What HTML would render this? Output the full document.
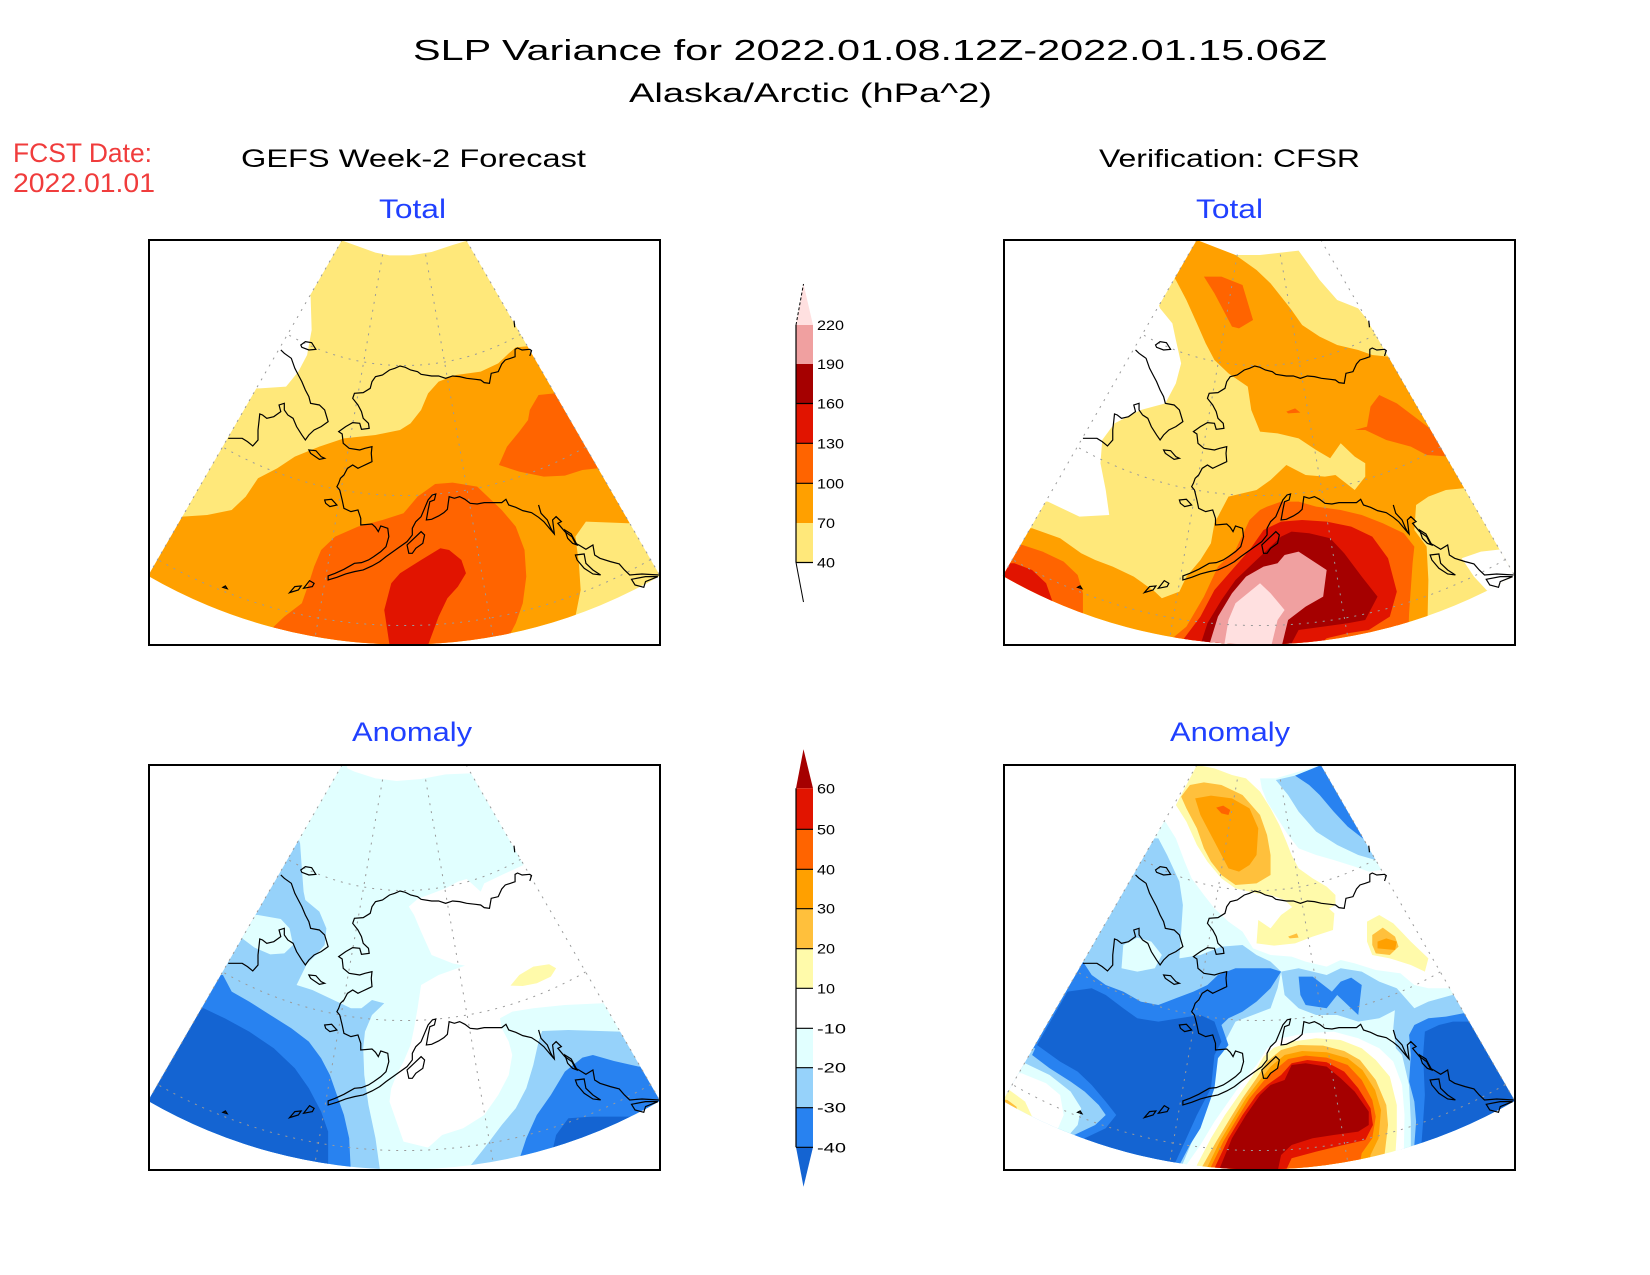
<!DOCTYPE html>
<html>
<head>
<meta charset="utf-8">
<style>
html,body{margin:0;padding:0;background:#fff;}
svg{display:block;}
text{font-family:"Liberation Sans",sans-serif;}
</style>
</head>
<body>
<svg width="1650" height="1275" viewBox="0 0 1650 1275" xmlns="http://www.w3.org/2000/svg">
<defs>
  <clipPath id="fanL"><path d="M604.7,30 L958.3,30 L1511.5,1037.7 A1460,1536 0 0 1 51.5,1037.7 Z"/></clipPath>
  <clipPath id="fanR"><path d="M589.7,30 L943.3,30 L1496.5,1037.7 A1460,1536 0 0 1 36.5,1037.7 Z"/></clipPath>
  <g id="coast" fill="none" stroke="#000" stroke-width="1.2" vector-effect="non-scaling-stroke">
    <path vector-effect="non-scaling-stroke" d="M1140,378 L1145,362 L1140,358 L1118,360 L1105,354 L1098,358 L1098,380 L1085,385 L1070,390 L1060,402 L1050,425 L1030,430 L1025,460 L1010,458 L1000,450 L985,448 L960,445 L940,440 L920,438 L900,445 L880,438 L860,438 L830,433 L820,425 L800,420 L785,412 L770,408 L755,415 L740,420 L720,435 L700,440 L690,455 L685,475 L665,488 L640,490 L635,505 L650,525 L660,545 L665,565 L680,580 L682,595 L660,598 L655,580 L635,578 L615,590 L595,605 L605,612 L608,640 L625,655 L655,660 L670,655 L690,650 L688,670 L690,695 L680,700 L660,710 L650,715 L635,705 L620,715 L610,735 L600,745 L595,760 L590,770 L598,780 L605,810 L610,835 L630,845 L650,840 L658,865 L658,885 L690,882 L700,892 L708,905 L715,888 L735,895 L738,920 L730,950 L715,965 L695,980 L680,990 L660,998 L640,1000 L610,1018 L585,1030 L565,1038 L565,1050 L590,1042 L615,1032 L640,1025 L665,1020 L690,1008 L712,995 L730,980 L750,965 L770,950 L790,935 L805,915 L805,895 L815,875 L830,860 L840,835 L850,810 L862,795 L872,792 L868,810 L855,815 L850,840 L845,870 L860,868 L880,858 L895,848 L905,838 L910,800 L925,805 L940,800 L955,808 L970,820 L990,822 L1010,818 L1035,818 L1060,818 L1072,808 L1080,825 L1100,832 L1120,842 L1145,848 L1165,862 L1180,875 L1200,900 L1210,912 L1205,870 L1215,860 L1230,875 L1220,880 L1240,905 L1260,920 L1270,940 L1280,945 L1300,958 L1320,945 L1325,975 L1340,985 L1370,995 L1395,1002 L1410,1020 L1425,1035 L1460,1032 L1508,1035"/>
    <path vector-effect="non-scaling-stroke" d="M1095,272 L1097,292 M1165,825 L1172,850 L1190,870 L1200,895 L1208,910 M1240,900 L1258,912 L1275,945 L1262,940 L1248,925 Z M1270,975 L1295,972 L1300,1000 L1320,1020 L1342,1035 L1320,1032 L1295,1015 L1275,990 Z M1430,1048 L1470,1040 L1505,1040 L1470,1055 L1465,1072 L1440,1065 Z"/>
    <path vector-effect="non-scaling-stroke" d="M795,970 L790,945 L810,925 L830,905 L840,915 L835,940 L815,955 L805,970 Z M487,345 L500,335 L518,338 L530,358 L510,360 L490,352 Z M510,660 L530,662 L545,680 L555,685 L540,688 L515,670 Z M555,810 L575,808 L590,825 L570,830 L558,820 Z M455,1088 L470,1070 L488,1068 L480,1080 Z M495,1075 L512,1052 L525,1060 L520,1070 Z M265,1072 L272,1068 L277,1076 Z"/>
    <path vector-effect="non-scaling-stroke" d="M430,360 L440,370 L460,385 L470,415 L480,435 L490,455 L500,480 L510,500 L515,520 L540,525 L555,540 L565,575 L545,590 L525,600 L510,615 L500,630 L490,615 L475,590 L465,565 L450,555 L440,540 L440,520 L425,525 L430,545 L410,560 L390,565 L378,555 L370,552 L368,572 L365,600 L365,630 L350,648 L335,635 L320,625 L280,625"/>
  </g>
  <g id="grid" fill="none" stroke="#9a9a9a" stroke-width="1" stroke-dasharray="2 6">
    <path d="M-21.5,122.1 L-88.9,504.2 M21.5,122.1 L88.9,504.2"/>
    <path d="M116.5,201.8 A233,233 0 0 1 -116.5,201.8"/>
    <path d="M181.5,314.4 A363,363 0 0 1 -181.5,314.4"/>
    <path d="M246.5,427 A493,493 0 0 1 -246.5,427"/>
    <path d="M-62,107.4 L-256,443.4 M62,107.4 L256,443.4"/>
  </g>
</defs>

<rect x="0" y="0" width="1650" height="1275" fill="#fff"/>

<!-- Titles -->
<text x="413" y="60" font-size="29" fill="#000" textLength="914" lengthAdjust="spacingAndGlyphs">SLP Variance for 2022.01.08.12Z-2022.01.15.06Z</text>
<text x="629" y="102" font-size="27" fill="#000" textLength="363" lengthAdjust="spacingAndGlyphs">Alaska/Arctic (hPa^2)</text>
<text x="13" y="162" font-size="27" fill="#f03c3c" textLength="139" lengthAdjust="spacingAndGlyphs">FCST Date:</text>
<text x="13" y="192" font-size="27" fill="#f03c3c" textLength="142" lengthAdjust="spacingAndGlyphs">2022.01.01</text>
<text x="241" y="167" font-size="25" fill="#000" textLength="345" lengthAdjust="spacingAndGlyphs">GEFS Week-2 Forecast</text>
<text x="1099" y="167" font-size="25" fill="#000" textLength="261" lengthAdjust="spacingAndGlyphs">Verification: CFSR</text>
<text x="379" y="218" font-size="27" fill="#2040ff" textLength="67" lengthAdjust="spacingAndGlyphs">Total</text>
<text x="1196" y="218" font-size="27" fill="#2040ff" textLength="67" lengthAdjust="spacingAndGlyphs">Total</text>
<text x="352" y="741" font-size="27" fill="#2040ff" textLength="120" lengthAdjust="spacingAndGlyphs">Anomaly</text>
<text x="1170" y="741" font-size="27" fill="#2040ff" textLength="120" lengthAdjust="spacingAndGlyphs">Anomaly</text>

<!-- Panel 1: GEFS Total -->
<g transform="translate(130,230) scale(0.3507,0.3333)">
 <g clip-path="url(#fanL)">
  <polygon fill="#ffe87a" points="0,0 600,0 605,32 640,45 700,68 740,76 800,76 860,66 920,45 962,32 1600,0 1600,1300 0,1300 0,475 370,475 445,470 480,425 505,375 518,300 515,200 400,0"/>
  <polygon fill="#ffa000" points="0,860 150,860 220,855 290,840 330,800 365,745 420,715 470,680 540,650 610,625 700,615 770,600 800,580 830,540 850,490 880,455 930,435 1000,425 1050,400 1080,370 1100,352 1140,348 1600,348 1600,880 1420,880 1300,875 1270,920 1280,1000 1285,1080 1270,1160 1265,1300 0,1300"/>
  <polygon fill="#ff6400" points="1140,540 1165,495 1210,490 1600,490 1600,715 1335,715 1290,720 1240,737 1180,740 1110,725 1052,705 1075,650 1110,605 1135,570"/>
  <polygon fill="#ff6400" points="405,1300 405,1195 440,1160 490,1120 510,1060 525,1010 545,960 585,920 650,890 720,870 780,850 820,800 870,762 920,758 990,770 1020,800 1060,840 1100,890 1125,960 1130,1040 1120,1120 1100,1180 1080,1220 1075,1300"/>
  <polygon fill="#e11400" points="740,1300 740,1245 725,1140 745,1060 770,1030 830,990 885,955 910,960 945,990 958,1030 935,1070 905,1105 880,1160 850,1245 845,1300"/>
 </g>
</g>
<use href="#grid" x="404.1" y="132.5"/>
<g transform="translate(130,230) scale(0.3507,0.3333)"><use href="#coast"/></g>

<!-- Panel 2: CFSR Total -->
<g transform="translate(990,230) scale(0.3507,0.3333)">
 <g clip-path="url(#fanR)">
  <polygon fill="#ffe87a" points="0,0 595,0 590,32 700,75 770,75 880,62 920,120 940,150 990,210 1050,235 1080,275 1600,275 1600,1300 0,1300 0,815 165,815 255,860 340,855 330,780 315,700 320,630 355,580 430,540 500,520 530,460 545,400 530,330 520,280 485,235 400,0"/>
  <polygon fill="#ffa000" points="590,30 700,75 760,120 800,160 830,200 860,240 890,285 940,320 990,345 1050,360 1090,375 1135,380 1600,380 1600,775 1350,775 1300,780 1250,800 1215,825 1210,900 1245,950 1250,1050 1245,1300 0,1300 0,895 120,895 200,925 260,970 300,990 350,1010 410,1040 470,1085 490,1105 540,1085 560,1040 600,990 630,940 640,880 680,800 760,780 800,750 845,705 900,735 955,740 985,735 1040,780 1070,740 1070,700 1040,680 1000,640 970,685 930,660 880,625 820,610 770,605 745,540 735,470 680,430 640,390 615,340 590,280 560,210 530,150 450,30"/>
  <polygon fill="#fff" points="1345,985 1400,965 1460,958 1520,1000 1520,1060 1420,1085 1380,1040"/>
  <polygon fill="#ff6400" points="610,140 660,140 720,165 750,270 710,295 690,290 660,230 640,190"/>
  <polygon fill="#ff6400" points="845,545 870,535 885,548 850,550"/>
  <polygon fill="#ff6400" points="1040,600 1075,590 1085,530 1110,495 1160,520 1210,560 1260,600 1600,620 1600,700 1245,675 1200,650 1130,630 1070,600"/>
  <polygon fill="#ff6400" points="0,945 93,945 150,965 210,995 250,1035 265,1090 265,1300 0,1300"/>
  <polygon fill="#ff6400" points="500,1300 520,1225 560,1190 610,1100 650,1010 700,960 740,870 770,840 790,830 830,815 880,815 930,830 1000,840 1060,855 1120,880 1180,910 1210,950 1205,1000 1195,1150 1190,1300"/>
  <polygon fill="#e11400" points="0,1000 70,1000 120,1020 160,1060 180,1120 180,1300 0,1300"/>
  <polygon fill="#e11400" points="550,1300 550,1230 600,1160 640,1080 690,1020 740,960 780,900 830,875 890,870 960,875 1030,890 1090,920 1135,985 1160,1085 1140,1160 1110,1180 1080,1200 1020,1210 960,1225 880,1300"/>
  <polygon fill="#a50000" points="600,1300 600,1245 620,1180 660,1110 700,1050 750,1000 790,960 830,920 860,905 910,910 970,925 1010,970 1060,1040 1105,1100 1070,1170 1020,1180 950,1190 880,1200 830,1300"/>
  <polygon fill="#f0a0a0" points="620,1300 625,1245 650,1160 690,1090 730,1040 780,1010 820,1000 840,975 880,965 960,1020 950,1100 900,1130 850,1170 820,1300"/>
  <polygon fill="#ffe0e0" points="665,1300 668,1245 680,1170 700,1120 770,1060 800,1090 840,1140 820,1170 790,1300"/>
 </g>
</g>
<use href="#grid" x="1258.8" y="132.5"/>
<g transform="translate(990,230) scale(0.3507,0.3333) translate(-15,0)"><use href="#coast"/></g>

<!-- Panel 3: GEFS Anomaly -->
<g transform="translate(130,755) scale(0.3507,0.3333)">
 <g clip-path="url(#fanL)">
  <polygon fill="#e1ffff" points="0,0 610,0 620,40 640,50 700,70 760,78 830,72 900,58 970,55 1000,0 1600,0 1600,1300 0,1300"/>
  <polygon fill="#fff" points="1122,330 1060,360 1010,385 1000,410 960,372 935,380 900,400 850,420 820,432 795,455 810,480 830,530 860,600 920,625 955,632 880,660 830,690 820,760 810,820 800,870 780,920 760,960 745,1000 740,1040 760,1100 780,1160 850,1178 890,1140 950,1120 1010,1080 1050,1020 1080,960 1090,900 1080,860 1060,820 1055,790 1090,770 1150,760 1240,750 1347,745 1600,745 1600,330"/>
  <polygon fill="#fffaaa" points="1085,692 1110,660 1150,635 1195,628 1215,640 1200,665 1160,685 1120,693"/>
  <polygon fill="#96d2fa" points="480,250 485,265 490,340 495,410 500,435 540,470 560,520 555,570 530,600 505,625 475,690 520,705 560,725 600,745 630,760 660,760 690,735 725,745 690,780 670,830 665,880 668,960 680,1050 700,1150 720,1300 0,1300 0,250"/>
  <polygon fill="#e1ffff" points="365,480 430,492 455,520 465,570 440,595 400,598 355,578 320,550 330,480"/>
  <polygon fill="#96d2fa" points="965,1300 965,1240 1010,1180 1060,1110 1100,1060 1130,1000 1150,930 1165,860 1175,828 1250,825 1395,830 1600,830 1600,1300"/>
  <polygon fill="#2882f0" points="0,660 265,660 290,710 340,740 400,780 460,820 510,860 545,910 570,960 590,1020 610,1080 625,1150 632,1300 0,1300"/>
  <polygon fill="#2882f0" points="1100,1300 1100,1245 1130,1150 1160,1080 1200,1020 1240,950 1290,908 1320,900 1380,918 1451,935 1600,935 1600,1300"/>
  <polygon fill="#1464d2" points="0,760 210,760 270,790 340,830 410,880 470,940 510,1000 545,1070 565,1130 565,1300 0,1300"/>
  <polygon fill="#1464d2" points="1205,1300 1205,1185 1215,1140 1250,1090 1320,1085 1600,1085 1600,1300"/>
 </g>
</g>
<use href="#grid" x="404.1" y="657.5"/>
<g transform="translate(130,755) scale(0.3507,0.3333)"><use href="#coast"/></g>

<!-- Panel 4: CFSR Anomaly -->
<g transform="translate(990,755) scale(0.3507,0.3333)">
 <g clip-path="url(#fanR)">
  <polygon fill="#e1ffff" points="500,200 530,250 555,320 575,370 610,420 640,460 680,500 720,530 750,580 800,600 860,605 900,620 960,635 1000,615 1040,625 1100,645 1170,655 1210,690 1250,700 1308,700 1600,700 1600,1300 0,1300 0,200"/>
  <polygon fill="#96d2fa" points="480,250 505,300 540,380 550,450 545,530 540,610 600,600 660,575 720,570 760,600 800,620 830,650 820,700 800,760 700,800 650,900 600,1100 520,1300 0,1300 0,250"/>
  <polygon fill="#e1ffff" points="380,570 420,548 460,560 490,600 470,640 420,650 375,640"/>
  <polygon fill="#96d2fa" points="830,650 880,640 960,660 1000,640 1060,650 1110,680 1160,700 1165,760 1110,790 1050,800 990,780 930,780 880,760 840,720"/>
  <polygon fill="#96d2fa" points="1160,700 1210,760 1250,740 1318,720 1600,720 1600,1300 1170,1300 1170,1100 1160,900 1150,820"/>
  <polygon fill="#e1ffff" points="770,70 815,70 945,30 1600,30 1600,345 1115,345 1080,350 1040,335 980,315 930,300 880,280 850,240 820,190 790,140 775,100"/>
  <polygon fill="#96d2fa" points="815,75 870,62 945,30 1600,30 1600,315 1099,315 1050,300 990,270 930,230 880,170 850,120"/>
  <polygon fill="#2882f0" points="870,62 945,30 1600,30 1600,250 1063,250 1020,215 980,170 940,120 910,90"/>
  <polygon fill="#96d2fa" points="0,880 129,880 120,900 170,940 230,980 270,1010 310,1050 330,1080 300,1110 240,1140 240,1300 0,1300"/>
  <polygon fill="#e1ffff" points="0,920 100,925 170,960 230,1010 260,1060 250,1110 225,1140 0,1140"/>
  <polygon fill="#fff" points="0,955 90,955 160,985 200,1020 210,1080 190,1130 0,1130"/>
  <polygon fill="#fffaaa" points="0,1000 55,1005 100,1040 120,1085 0,1085"/>
  <polygon fill="#ffc03c" points="0,1030 50,1035 75,1055 80,1070 0,1070"/>
  <polygon fill="#2882f0" points="265,620 290,660 330,690 380,710 430,740 480,750 530,730 580,710 620,690 650,660 700,640 760,640 800,640 830,650 800,700 760,740 720,770 680,790 660,810 680,870 650,910 640,1000 620,1060 600,1120 570,1170 540,1230 530,1300 240,1300 240,1140 300,1110 330,1080 310,1050 270,1010 230,980 170,940 120,900 129,880 0,880 0,620"/>
  <polygon fill="#2882f0" points="880,665 920,665 975,710 1000,680 1030,668 1060,690 1050,780 990,720 960,760 900,750 885,720"/>
  <polygon fill="#2882f0" points="1210,1300 1210,1170 1215,1100 1210,1040 1195,980 1200,900 1195,840 1210,810 1250,790 1300,785 1350,775 1600,775 1600,1300"/>
  <polygon fill="#1464d2" points="134,870 221,710 290,700 330,720 380,760 420,790 480,800 540,790 600,780 640,800 660,860 640,900 630,1000 590,1080 560,1150 525,1230 500,1300 260,1300 270,1150 330,1120 360,1080 330,1040 290,990 250,950 200,920"/>
  <polygon fill="#1464d2" points="1230,1300 1230,1170 1235,1100 1240,1020 1235,900 1240,830 1280,810 1320,800 1363,800 1600,800 1600,1300"/>
  <polygon fill="#e1ffff" points="540,1300 560,1200 610,1110 650,1040 690,980 740,910 770,860 800,820 860,800 950,800 1050,820 1130,850 1175,900 1195,990 1200,1100 1200,1300"/>
  <polygon fill="#fff" points="560,1300 560,1230 600,1170 640,1100 680,1040 720,980 760,930 790,880 830,850 900,835 980,830 1050,850 1110,880 1150,920 1175,990 1182,1080 1178,1300"/>
  <polygon fill="#fffaaa" points="585,1300 590,1230 630,1150 670,1080 710,1020 750,960 780,905 810,878 860,860 930,850 1000,855 1060,880 1100,915 1140,965 1160,1050 1160,1130 1150,1300"/>
  <polygon fill="#ffc03c" points="600,1300 605,1235 645,1160 685,1090 720,1030 760,970 790,920 830,885 880,870 950,872 1010,888 1055,915 1100,975 1130,1050 1135,1110 1125,1200 1110,1300"/>
  <polygon fill="#ffa000" points="615,1300 618,1240 655,1160 695,1090 730,1030 770,975 800,935 840,900 890,888 960,892 1020,910 1062,945 1098,1005 1115,1065 1108,1150 1085,1200 1075,1300"/>
  <polygon fill="#ff6400" points="625,1300 628,1240 665,1160 705,1090 740,1030 780,978 812,945 850,912 900,902 960,908 1020,930 1060,975 1090,1035 1100,1085 1090,1150 1060,1195 1040,1300"/>
  <polygon fill="#e11400" points="635,1300 640,1240 680,1150 720,1080 760,1020 790,990 830,960 860,925 905,915 960,922 1010,950 1050,1000 1085,1060 1092,1110 1070,1155 1000,1172 930,1190 860,1210 820,1300"/>
  <polygon fill="#a50000" points="650,1300 655,1240 690,1150 730,1080 770,1020 800,990 840,975 860,930 900,925 960,935 1000,970 1040,1010 1080,1070 1080,1110 1050,1130 980,1140 920,1150 860,1170 830,1200 810,1300"/>
  <polygon fill="#fffaaa" points="530,150 590,30 640,40 690,60 730,70 770,110 800,160 825,210 845,260 860,300 880,340 920,370 960,395 985,420 985,450 960,465 900,468 860,455 840,435 800,420 760,415 700,400 660,370 620,320 590,270 560,200"/>
  <polygon fill="#fffaaa" points="760,565 765,495 800,520 830,480 870,450 960,455 982,475 978,525 920,545 870,565 810,572"/>
  <polygon fill="#fffaaa" points="1075,500 1110,480 1150,505 1200,560 1250,610 1240,650 1200,630 1140,610 1090,600 1075,560"/>
  <polygon fill="#ffc03c" points="545,125 570,90 610,82 660,90 720,120 770,180 790,240 800,300 800,360 760,385 700,390 660,360 630,320 610,280 590,220 560,160"/>
  <polygon fill="#ffc03c" points="1090,540 1120,518 1155,545 1165,575 1140,600 1100,595 1090,570"/>
  <polygon fill="#ffc03c" points="850,545 875,535 880,548 855,550"/>
  <polygon fill="#ffa000" points="585,130 630,122 690,130 740,160 765,220 760,300 740,330 710,350 680,340 660,300 640,260 620,220 600,180"/>
  <polygon fill="#ffa000" points="1105,560 1130,550 1160,560 1155,585 1105,580"/>
  <polygon fill="#ff6400" points="645,158 665,152 685,165 680,180 660,175"/>
 </g>
</g>
<use href="#grid" x="1258.8" y="657.5"/>
<g transform="translate(990,755) scale(0.3507,0.3333) translate(-15,0)"><use href="#coast"/></g>

<!-- Frames -->
<g fill="none" stroke="#000" stroke-width="2">
  <rect x="149" y="240" width="511" height="405"/>
  <rect x="1004" y="240" width="511" height="405"/>
  <rect x="149" y="765" width="511" height="405"/>
  <rect x="1004" y="765" width="511" height="405"/>
</g>

<!-- Colorbar: Total -->
<g>
  <polygon fill="#ffe0e0" points="796,325 813,325 803.5,284"/>
  <rect x="796" y="325" width="17" height="39" fill="#f0a0a0"/>
  <rect x="796" y="364" width="17" height="39.5" fill="#a50000"/>
  <rect x="796" y="403.5" width="17" height="39.8" fill="#e11400"/>
  <rect x="796" y="443.3" width="17" height="40" fill="#ff6400"/>
  <rect x="796" y="483.3" width="17" height="39.7" fill="#ffa000"/>
  <rect x="796" y="523" width="17" height="39.5" fill="#ffe87a"/>
  <line x1="796" y1="325" x2="803.5" y2="284" stroke="#000" stroke-width="1" stroke-dasharray="3 2"/>
  <line x1="796" y1="562.5" x2="803.5" y2="602" stroke="#000" stroke-width="1"/>
  <line x1="796" y1="325" x2="796" y2="562.5" stroke="#000" stroke-width="1.2"/>
  <g stroke="#000" stroke-width="1.2">
    <line x1="796" y1="403.5" x2="813" y2="403.5"/>
    <line x1="796" y1="443.3" x2="813" y2="443.3"/>
    <line x1="796" y1="483.3" x2="813" y2="483.3"/>
    <line x1="796" y1="562.5" x2="813" y2="562.5"/>
  </g>
  <g font-size="14" fill="#000">
    <text x="817" y="330" textLength="27" lengthAdjust="spacingAndGlyphs">220</text>
    <text x="817" y="369" textLength="27" lengthAdjust="spacingAndGlyphs">190</text>
    <text x="817" y="408.5" textLength="27" lengthAdjust="spacingAndGlyphs">160</text>
    <text x="817" y="448.3" textLength="27" lengthAdjust="spacingAndGlyphs">130</text>
    <text x="817" y="488.3" textLength="27" lengthAdjust="spacingAndGlyphs">100</text>
    <text x="817" y="528" textLength="18" lengthAdjust="spacingAndGlyphs">70</text>
    <text x="817" y="567.5" textLength="18" lengthAdjust="spacingAndGlyphs">40</text>
  </g>
</g>

<!-- Colorbar: Anomaly -->
<g>
  <polygon fill="#a50000" points="796,788.3 813,788.3 803.5,749.3"/>
  <rect x="796" y="788.3" width="17" height="41" fill="#e11400"/>
  <rect x="796" y="829.3" width="17" height="40" fill="#ff6400"/>
  <rect x="796" y="869.3" width="17" height="39.4" fill="#ffa000"/>
  <rect x="796" y="908.7" width="17" height="40" fill="#ffc03c"/>
  <rect x="796" y="948.7" width="17" height="39.6" fill="#fffaaa"/>
  <rect x="796" y="1028.3" width="17" height="39.4" fill="#e1ffff"/>
  <rect x="796" y="1067.7" width="17" height="40" fill="#96d2fa"/>
  <rect x="796" y="1107.7" width="17" height="39.6" fill="#2882f0"/>
  <polygon fill="#1464d2" points="796,1147.3 813,1147.3 803.5,1186.7"/>
  <line x1="796" y1="788.3" x2="796" y2="1147.3" stroke="#000" stroke-width="1.2"/>
  <g stroke="#000" stroke-width="1.2">
    <line x1="796" y1="829.3" x2="813" y2="829.3"/>
    <line x1="796" y1="869.3" x2="813" y2="869.3"/>
    <line x1="796" y1="908.7" x2="813" y2="908.7"/>
    <line x1="796" y1="948.7" x2="813" y2="948.7"/>
    <line x1="796" y1="988.3" x2="813" y2="988.3"/>
    <line x1="796" y1="1028.3" x2="813" y2="1028.3"/>
    <line x1="796" y1="1067.7" x2="813" y2="1067.7"/>
    <line x1="796" y1="1107.7" x2="813" y2="1107.7"/>
    <line x1="796" y1="1147.3" x2="813" y2="1147.3"/>
  </g>
  <g font-size="14" fill="#000">
    <text x="817" y="793.3" textLength="18" lengthAdjust="spacingAndGlyphs">60</text>
    <text x="817" y="834.3" textLength="18" lengthAdjust="spacingAndGlyphs">50</text>
    <text x="817" y="874.3" textLength="18" lengthAdjust="spacingAndGlyphs">40</text>
    <text x="817" y="913.7" textLength="18" lengthAdjust="spacingAndGlyphs">30</text>
    <text x="817" y="953.7" textLength="18" lengthAdjust="spacingAndGlyphs">20</text>
    <text x="817" y="993.3" textLength="18" lengthAdjust="spacingAndGlyphs">10</text>
    <text x="817" y="1033.3" textLength="29" lengthAdjust="spacingAndGlyphs">-10</text>
    <text x="817" y="1072.7" textLength="29" lengthAdjust="spacingAndGlyphs">-20</text>
    <text x="817" y="1112.7" textLength="29" lengthAdjust="spacingAndGlyphs">-30</text>
    <text x="817" y="1152.3" textLength="29" lengthAdjust="spacingAndGlyphs">-40</text>
  </g>
</g>
</svg>
</body>
</html>
